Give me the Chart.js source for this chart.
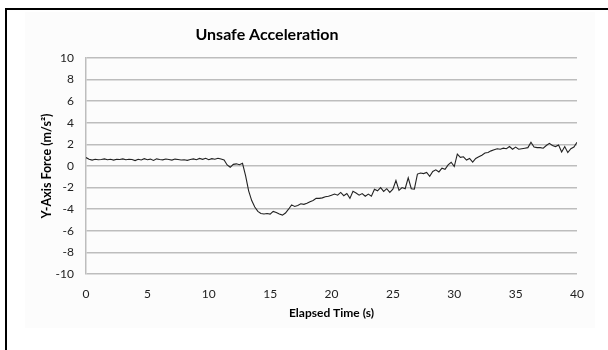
<!DOCTYPE html>
<html>
<head>
<meta charset="utf-8">
<script src="https://cdn.jsdelivr.net/npm/chart.js@4/dist/chart.umd.min.js"></script>
<style>
  html, body { margin: 0; padding: 0; background: #fff; overflow: hidden; }
  #wrap { position: relative; width: 608px; height: 350px; }
  #frame { position: absolute; left: 5px; top: 8px; width: 700px; height: 400px;
           border-top: 2px solid #000; border-left: 2px solid #000; }
  #panel { position: absolute; left: 25px; top: 12px; width: 570px; height: 316px; background: #fcfcfc; }
  #chart { position: absolute; left: 0; top: 0; }
</style>
</head>
<body>
<div id="wrap">
  <div id="frame"></div>
  <div id="panel"></div>
  <canvas id="chart" width="608" height="350"></canvas>
</div>
<script>
// Tiempo (s) y fuerza en eje Y (m/s²)
const tiempos = [
  0, 0.25, 0.5, 0.75, 1, 1.25, 1.5, 1.75, 2, 2.25, 2.5, 2.75, 3, 3.25, 3.5, 3.75,
  4, 4.25, 4.5, 4.75, 5, 5.25, 5.5, 5.75, 6, 6.25, 6.5, 6.75, 7, 7.25, 7.5, 7.75,
  8, 8.25, 8.5, 8.75, 9, 9.25, 9.5, 9.75, 10, 10.25, 10.5, 10.75, 11, 11.25, 11.5, 11.75,
  12, 12.25, 12.5, 12.75, 13, 13.25, 13.5, 13.75, 14, 14.25, 14.5, 14.75, 15, 15.25, 15.5, 15.75,
  16, 16.25, 16.5, 16.75, 17, 17.25, 17.5, 17.75, 18, 18.25, 18.5, 18.75, 19, 19.25, 19.5, 19.75,
  20, 20.25, 20.5, 20.75, 21, 21.25, 21.5, 21.75, 22, 22.25, 22.5, 22.75, 23, 23.25, 23.5, 23.75,
  24, 24.25, 24.5, 24.75, 25, 25.25, 25.5, 25.75, 26, 26.25, 26.5, 26.75, 27, 27.25, 27.5, 27.75,
  28, 28.25, 28.5, 28.75, 29, 29.25, 29.5, 29.75, 30, 30.25, 30.5, 30.75, 31, 31.25, 31.5, 31.75,
  32, 32.25, 32.5, 32.75, 33, 33.25, 33.5, 33.75, 34, 34.25, 34.5, 34.75, 35, 35.25, 35.5, 35.75,
  36, 36.25, 36.5, 36.75, 37, 37.25, 37.5, 37.75, 38, 38.25, 38.5, 38.75, 39, 39.25, 39.5, 39.75,
  40
];
const fuerzaY = [
  0.78, 0.62, 0.55, 0.62, 0.58, 0.60, 0.66, 0.58, 0.62, 0.55, 0.63, 0.60, 0.66, 0.58, 0.62, 0.60,
  0.50, 0.62, 0.56, 0.68, 0.58, 0.64, 0.52, 0.66, 0.60, 0.57, 0.65, 0.60, 0.55, 0.64, 0.60, 0.55,
  0.58, 0.52, 0.60, 0.66, 0.58, 0.70, 0.62, 0.72, 0.58, 0.68, 0.62, 0.72, 0.64, 0.55, 0.10, -0.12,
  0.15, 0.20, 0.12, 0.25, -0.90, -2.30, -3.20, -3.80, -4.20, -4.40, -4.45, -4.40, -4.45, -4.20, -4.30, -4.45,
  -4.55, -4.35, -4.00, -3.60, -3.75, -3.65, -3.50, -3.55, -3.45, -3.30, -3.20, -3.00, -3.00, -2.95, -2.85, -2.80,
  -2.70, -2.60, -2.70, -2.45, -2.75, -2.55, -3.00, -2.35, -2.50, -2.70, -2.55, -2.80, -2.60, -2.80, -2.15, -2.30,
  -2.00, -2.35, -2.10, -2.45, -2.15, -1.35, -2.25, -2.00, -2.10, -1.10, -2.10, -2.15, -0.75, -0.65, -0.70, -0.60,
  -0.95, -0.50, -0.35, -0.55, -0.20, -0.30, 0.10, 0.35, -0.05, 1.10, 0.80, 0.85, 0.55, 0.70, 0.35, 0.70,
  0.85, 1.00, 1.20, 1.25, 1.40, 1.50, 1.60, 1.55, 1.65, 1.60, 1.80, 1.55, 1.75, 1.55, 1.60, 1.65,
  1.70, 2.20, 1.75, 1.70, 1.70, 1.65, 1.90, 2.10, 1.90, 1.80, 1.95, 1.30, 1.80, 1.25, 1.60, 1.75,
  2.20
];
const ticksY = [-10, -8, -6, -4, -2, 0, 2, 4, 6, 8, 10];
const ticksX = [0, 5, 10, 15, 20, 25, 30, 35, 40];
const titulo = 'Unsafe Acceleration';

const puntos = tiempos.map((t, i) => ({ x: t, y: fuerzaY[i] }));
const fuente = "Lato, 'Open Sans', sans-serif";

// El título de Excel no está centrado sobre el canvas, así que lo dibujamos aparte
const tituloPlugin = {
    id: 'tituloPlugin',
    afterDraw(chart) {
        const c = chart.ctx;
        c.save();
        c.font = "bold 16px " + fuente;
        c.fillStyle = '#000';
        c.textAlign = 'center';
        c.textBaseline = 'middle';
        c.fillText(titulo, 267, 35);
        c.restore();
    }
};

const ctx = document.getElementById('chart').getContext('2d');
const grafica = new Chart(ctx, {
    type: 'line',
    data: {
        datasets: [{
            label: 'Y-Axis Force',
            data: puntos,
            borderColor: '#222',
            borderWidth: 1.1,
            pointRadius: 0,
            tension: 0,
            fill: false
        }]
    },
    options: {
        responsive: false,
        animation: false,
        layout: { padding: { left: 0, right: 31, top: 58, bottom: 0 } },
        plugins: {
            legend: { display: false },
            tooltip: { enabled: false },
            title: { display: false }
        },
        scales: {
            x: {
                type: 'linear',
                min: 0,
                max: 40,
                afterBuildTicks: s => { s.ticks = ticksX.map(v => ({ value: v })); },
                afterFit: s => { s.height = 76; },
                grid: { display: false },
                border: { display: false },
                ticks: { color: '#222', padding: 5, maxRotation: 0, font: { family: fuente, size: 12 } },
                title: {
                    display: true,
                    text: 'Elapsed Time (s)',
                    color: '#000',
                    font: { family: fuente, size: 12, weight: 'bold' },
                    padding: { bottom: 30 }
                }
            },
            y: {
                min: -10,
                max: 10,
                afterBuildTicks: s => { s.ticks = ticksY.map(v => ({ value: v })); },
                afterFit: s => { s.width = 86; },
                grid: { color: '#bdbdbd', lineWidth: 1.5, drawTicks: false },
                border: { display: true, color: '#bdbdbd', width: 1.5 },
                ticks: { color: '#222', padding: 12, font: { family: fuente, size: 12 } },
                title: {
                    display: true,
                    text: 'Y-Axis Force (m/s²)',
                    color: '#000',
                    font: { family: fuente, size: 12.5, weight: 'bold' },
                    padding: { top: 39 }
                }
            }
        }
    },
    plugins: [tituloPlugin]
});
</script>
</body>
</html>
